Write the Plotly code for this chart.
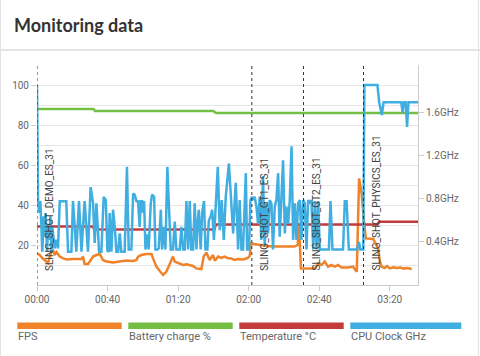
import pandas as pd
import plotly.graph_objects as go

# ---------------- data ----------------
series_names = ["FPS", "Battery charge %", "Temperature °C", "CPU Clock GHz"]
series_colors = ["#f0822a", "#74bf43", "#c43b3b", "#40aee0"]

fps_t = [0, 1.5, 3.0, 5.4, 6.3, 7.2, 8.1, 9.1, 10.0, 11.0, 12.9, 14.8, 17.0, 20.0, 23.0, 25.2,
         26.1, 27.0, 29.0, 29.9, 31.8, 33.7, 35.6, 37.4, 39.3, 43.1, 46.9, 50.7, 54.5, 56.4,
         57.3, 59.2, 62.0, 64.9, 65.8, 67.7, 69.6, 71.5, 73.4, 75.2, 77.1, 78.1, 80.9, 82.8,
         84.7, 86.6, 88.5, 90.3, 93.2, 94.5, 96.0, 97.9, 99.8, 100.8, 102.7, 104.5, 106.4,
         108.0, 110.0, 112.0, 114.0, 117.0, 119.5, 120.6, 121.4, 123.0, 126.0, 130.0, 134.0,
         138.0, 142.0, 146.0, 147.8, 148.6, 149.6, 156.5, 157.5, 159.4, 161.3, 163.1, 165.0,
         166.9, 168.8, 170.7, 172.6, 176.4, 179.2, 180.5, 181.3, 182.6, 183.9, 185.2, 186.4,
         190.6, 191.5, 192.5, 193.4, 194.3, 195.3, 197.0, 198.5, 200.0, 202.0, 204.0, 206.0,
         208.0, 210.0, 212.4]
fps = [15.8, 15.0, 13.5, 11.7, 11.0, 14.0, 16.7, 17.2, 15.0, 16.5, 14.2, 13.3, 12.8, 13.0, 12.8, 13.0,
       14.2, 10.5, 10.5, 11.7, 14.2, 15.0, 15.5, 12.5, 11.7, 11.2, 11.7, 12.2, 12.0, 12.5,
       14.2, 15.0, 15.5, 15.5, 13.3, 9.2, 7.0, 5.0, 6.7, 10.8, 14.2, 11.7, 10.8, 10.0,
       10.3, 10.0, 9.5, 8.3, 8.0, 14.2, 16.2, 12.5, 15.0, 12.2, 14.2, 13.5, 14.2,
       13.5, 13.3, 12.5, 13.0, 12.8, 13.5, 14.5, 20.8, 20.5, 20.0, 19.5, 19.2,
       19.2, 19.5, 19.2, 20.0, 30.8, 8.3, 8.2, 8.3, 10.8, 10.0, 11.7, 9.2,
       10.0, 9.2, 10.0, 8.7, 8.8, 9.2, 7.5, 6.7, 53.3, 46.7, 34.0, 23.3,
       23.0, 21.7, 20.0, 18.3, 12.0, 9.2, 8.5, 9.5, 8.3, 8.8, 8.5, 8.7,
       8.2, 8.5, 8.0]

battery_t = [0, 32, 33, 100, 101.5, 216]
battery = [88, 88, 87, 87, 86, 86]

temp_t = [0, 31.5, 32.5, 100.5, 101.5, 193, 194, 216]
temp = [29.2, 29.2, 27.8, 27.8, 30.3, 30.3, 31.6, 31.6]

cpu_t = [0, 0.6, 1.2, 1.9, 2.5, 3.0, 3.8, 4.4, 4.9, 5.7, 6.3, 6.8, 7.6, 8.2, 8.7, 9.5, 10.0, 11.0,
         11.9, 12.9, 16.6, 17.6, 19.5, 20.4, 22.3, 23.8, 25.2, 27.0, 28.9, 30.4, 31.8, 32.7, 33.7,
         35.2, 36.5, 37.8, 39.0, 39.9, 40.7, 41.2, 42.2, 43.1, 44.1, 45.0, 46.0, 46.9, 47.8, 49.7,
         51.0, 52.0, 53.5, 54.5, 55.4, 56.4, 57.3, 58.2, 58.8, 59.6, 60.1, 60.7, 61.5, 62.6, 63.3,
         64.5, 65.2, 66.4, 67.1, 68.3, 69.0, 70.2, 70.9, 72.0, 72.8, 73.9, 74.9, 75.8, 77.1, 78.1,
         79.0, 80.9, 81.9, 82.8, 83.8, 84.7, 85.7, 86.6, 87.5, 88.5, 89.4, 90.4, 90.9, 91.7, 92.8,
         93.6, 94.7, 95.5, 96.6, 97.4, 98.5, 99.3, 100.3, 101.3, 102.5, 103.6, 104.7, 105.9, 107.0,
         108.8, 110.4, 111.2, 112.1, 112.7, 113.4, 114.0, 114.9, 115.9, 116.8, 117.8, 118.4, 119.1,
         120.2, 121.0, 121.9, 122.5, 123.4, 124.4, 125.3, 126.3, 127.2, 128.1, 129.1, 130.0, 131.0,
         131.9, 132.9, 133.8, 134.8, 135.7, 136.7, 137.6, 138.6, 139.5, 140.5, 141.4, 142.4, 143.3,
         144.3, 145.2, 146.1, 147.1, 148.0, 149.0, 149.9, 150.9, 151.8, 152.8, 153.7, 154.7, 155.6,
         156.6, 157.5, 158.5, 159.4, 160.3, 165.5, 166.4, 167.5, 173.5, 174.5, 175.5, 176.8, 181.5,
         182.5, 183.3, 185.0, 185.6, 193.0, 194.0, 195.5, 196.5, 206.5, 207.3, 208.0, 209.0, 209.8,
         210.6, 216.0]
cpu_ghz = [1.86, 0.78, 0.67, 0.78, 0.54, 0.31, 0.64, 0.45, 0.67, 0.31, 0.54, 0.42, 0.64, 0.31, 0.54, 0.39, 0.34, 0.42,
           0.34, 0.78, 0.78, 0.31, 0.31, 0.78, 0.31, 0.78, 0.31, 0.78, 0.31, 0.91, 0.76, 0.39, 0.76,
           0.31, 0.31, 0.82, 0.79, 0.32, 0.31, 0.67, 0.31, 0.70, 0.54, 0.31, 0.31, 0.48, 0.31, 0.31,
           1.10, 0.33, 0.33, 0.85, 0.84, 0.78, 0.78, 0.54, 0.78, 0.78, 0.67, 0.78, 0.33, 0.47, 0.33,
           0.76, 0.84, 0.82, 0.33, 0.33, 0.34, 0.70, 0.33, 0.54, 0.33, 1.10, 0.60, 0.33, 0.33, 0.59,
           0.33, 0.33, 0.54, 0.33, 0.33, 0.78, 0.33, 0.78, 0.33, 0.33, 0.76, 0.33, 0.54, 0.70, 0.33,
           0.67, 0.78, 0.33, 0.33, 0.60, 0.64, 0.70, 0.42, 0.76, 1.10, 0.51, 0.79, 0.42, 0.82,
           1.13, 0.73, 0.48, 0.79, 0.95, 0.64, 0.33, 0.79, 0.33, 0.33, 0.91, 1.04, 0.33,
           0.33, 0.79, 0.82, 0.79, 0.82, 0.73, 0.57, 0.82, 0.42, 1.01, 0.36, 0.76, 0.48,
           0.79, 0.76, 0.33, 0.73, 0.79, 1.04, 0.45, 0.79, 1.16, 0.48, 0.73, 0.57, 0.79,
           1.29, 0.42, 0.76, 0.42, 0.76, 0.79, 0.42, 0.79, 0.76, 0.33, 0.79, 0.76, 0.79,
           0.33, 0.78, 0.33, 0.78, 0.33, 0.33, 0.78, 0.33, 0.33, 0.78, 0.78, 0.33, 0.33,
           0.40, 0.33, 0.33, 1.86, 1.86, 1.70, 1.58, 1.70, 1.70, 1.60, 1.70, 1.70, 1.47,
           1.70, 1.70]

event_names = ["SLING_SHOT_DEMO_ES_31", "SLING_SHOT_GT1_ES_31", "SLING_SHOT_GT2_ES_31",
               "SLING_SHOT_PHYSICS_ES_31"]
event_t = [0, 121.8, 151.1, 185.1]

left_ticks = [20, 40, 60, 80, 100]
right_ticks = [0.4, 0.8, 1.2, 1.6]
t_end = 216

# ---------------- helpers ----------------
W, H = 480, 356
ML, MR, MT, MB = 37, 62, 65, 71
PW, PH = W - ML - MR, H - MT - MB
base = pd.Timestamp("2000-01-01")


def ts(seconds):
    return base + pd.to_timedelta(pd.Series(seconds, dtype=float), unit="s")


def px(x):
    return (x - ML) / PW


def py(y):
    return (H - MB - y) / PH


fig = go.Figure()
fig.add_trace(go.Scatter(x=ts(fps_t), y=fps, mode="lines", name=series_names[0],
                         line=dict(color=series_colors[0], width=2.5)))
fig.add_trace(go.Scatter(x=ts(battery_t), y=battery, mode="lines", name=series_names[1],
                         line=dict(color=series_colors[1], width=2.5)))
fig.add_trace(go.Scatter(x=ts(temp_t), y=temp, mode="lines", name=series_names[2],
                         line=dict(color=series_colors[2], width=2.5)))
fig.add_trace(go.Scatter(x=ts(cpu_t), y=cpu_ghz, mode="lines", name=series_names[3],
                         yaxis="y2", line=dict(color=series_colors[3], width=2.5)))

shapes = []
annotations = []
for name, t in zip(event_names, event_t):
    x = ts([t])[0]
    shapes.append(dict(type="line", xref="x", yref="paper", x0=x, x1=x, y0=0, y1=1,
                       line=dict(color="#333333", width=1, dash="3px,3px"), layer="above"))
    annotations.append(dict(x=x, xref="x", y=py(273), yref="paper", text=name, textangle=-90,
                            showarrow=False, xanchor="left", yanchor="bottom", xshift=5,
                            font=dict(family="Roboto", size=10, color="#444444")))

# card frame + separator
shapes.append(dict(type="line", xref="paper", yref="paper", x0=px(0), x1=px(W), y0=py(50), y1=py(50),
                   line=dict(color="#dddddd", width=1.5)))
shapes.append(dict(type="line", xref="paper", yref="paper", x0=px(0.5), x1=px(0.5), y0=py(0), y1=py(H),
                   line=dict(color="#e3e3e3", width=1)))
shapes.append(dict(type="line", xref="paper", yref="paper", x0=px(478.5), x1=px(478.5), y0=py(0), y1=py(H),
                   line=dict(color="#e3e3e3", width=1)))

# custom legend
legend_x = [(17.3, 121.7), (128.3, 232.7), (239.3, 343.7), (350.3, 461.3)]
for (x0, x1), name, col in zip(legend_x, series_names, series_colors):
    shapes.append(dict(type="rect", xref="paper", yref="paper", x0=px(x0), x1=px(x1),
                       y0=py(329), y1=py(322.5), fillcolor=col, line=dict(width=0)))
    annotations.append(dict(x=px(x0), y=py(336), xref="paper", yref="paper", text=name,
                            showarrow=False, xanchor="left", yanchor="middle", xshift=-1,
                            font=dict(family="Roboto", size=11, color="#666666")))

axis_col = "#cccccc"
tick_font = dict(family="Roboto", size=10, color="#666666")

fig.update_layout(
    width=W, height=H,
    margin=dict(l=ML, r=MR, t=MT, b=MB, pad=0),
    paper_bgcolor="white", plot_bgcolor="white",
    showlegend=False,
    title=dict(text="<b>Monitoring data</b>", xref="container", yref="container",
               x=14 / W, y=1 - 26 / H, xanchor="left", yanchor="middle",
               font=dict(family="Lato", size=18, color="#333333")),
    xaxis=dict(type="date", range=[base, ts([t_end])[0]], tickformat="%M:%S",
               tick0=base, dtick=40000, showgrid=False, zeroline=False,
               showline=True, linecolor=axis_col, linewidth=1, automargin=False,
               ticks="outside", ticklen=5, tickcolor=axis_col, tickfont=tick_font),
    yaxis=dict(range=[0, 110], tickmode="array", tickvals=left_ticks, showgrid=True,
               gridcolor="#e6e6e6", gridwidth=1, zeroline=False, showline=False,
               automargin=False,
               ticks="outside", ticklen=5, tickcolor=axis_col, tickfont=tick_font,
               minor=dict(tickmode="linear", tick0=0, dtick=10, showgrid=True,
                          gridcolor="#e6e6e6", gridwidth=1, ticks="")),
    yaxis2=dict(range=[0, 110 * 0.0186], overlaying="y", side="right", tickmode="array",
                tickvals=right_ticks, ticktext=[f"{v}GHz" for v in right_ticks],
                showgrid=False, zeroline=False, automargin=False,
                showline=True, linecolor=axis_col, linewidth=1,
                ticks="outside", ticklen=5, tickcolor=axis_col, tickfont=tick_font),
    shapes=shapes,
    annotations=annotations,
)

fig.write_html("out.html", config={"displayModeBar": False},
               post_script="document.body.style.margin='0';document.body.style.overflow='hidden';")
